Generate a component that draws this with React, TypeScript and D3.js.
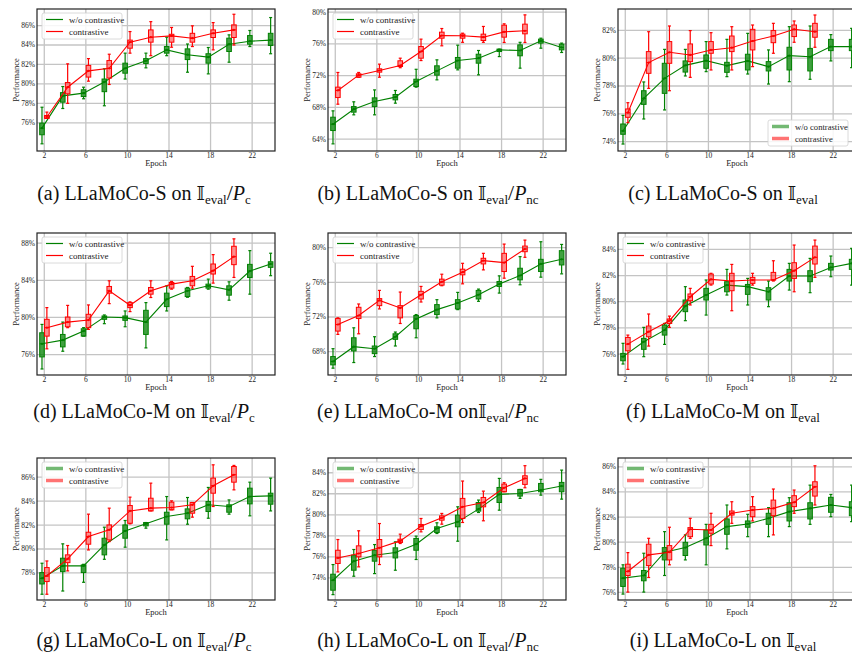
import * as d3 from 'd3';

// [low whisker, q1, median, q3, high whisker]
type Box = [number, number, number, number, number];

const epochsGreen = [2, 4, 6, 8, 10, 12, 14, 16, 18, 20, 22, 24];
const epochsRed = [2, 4, 6, 8, 10, 12, 14, 16, 18, 20];
const xTicks = [2, 6, 10, 14, 18, 22];
const seriesNames = ['w/o contrastive', 'contrastive'];

// (a) S on I_eval/P_c
const greenA: Box[] = [
  [73.84, 74.77, 75.45, 75.97, 77.6], [77.47, 78.12, 78.77, 79.1, 79.73], [78.47, 78.7, 79.05, 79.4, 79.66],
  [77.75, 79.2, 80.2, 80.5, 81.55], [80.5, 81.1, 81.6, 82.13, 83.16], [81.65, 82.1, 82.37, 82.6, 83.16],
  [82.9, 83.16, 83.5, 83.84, 84.8], [81.2, 82.5, 83.0, 83.6, 84.1], [81.03, 82.13, 82.75, 83.1, 83.74],
  [82.23, 83.33, 84.08, 84.7, 85.04], [83.84, 84.08, 84.39, 84.97, 85.49], [83.1, 83.95, 84.5, 85.2, 86.82],
];
const redA: Box[] = [
  [76.45, 76.45, 76.6, 76.75, 77.1], [78.0, 78.98, 79.66, 80.14, 82.06], [80.28, 80.7, 81.34, 81.9, 82.6],
  [79.94, 80.6, 81.6, 82.4, 83.05], [83.16, 83.67, 84.29, 84.5, 85.38], [82.9, 84.29, 84.8, 85.55, 86.4],
  [83.77, 84.29, 84.94, 85.1, 85.8], [83.84, 84.29, 84.7, 85.2, 85.97], [83.5, 84.77, 85.2, 85.55, 86.3],
  [84.0, 84.77, 85.55, 86.07, 87.16],
];

// (b) S on I_eval/P_nc
const greenB: Box[] = [
  [63.4, 65.08, 65.88, 66.76, 67.56], [67.06, 67.4, 67.77, 68.1, 68.7], [67.06, 68.1, 68.74, 69.2, 70.2],
  [68.53, 68.95, 69.29, 69.62, 70.13], [70.55, 70.63, 71.26, 71.55, 72.8], [71.47, 72.06, 72.6, 73.24, 73.99],
  [72.73, 72.94, 73.9, 74.29, 75.84], [72.1, 73.57, 74.2, 74.7, 75.17], [74.4, 75.04, 75.25, 75.34, 75.34],
  [72.94, 74.5, 75.17, 75.88, 76.2], [75.46, 76.1, 76.39, 76.6, 76.72], [74.92, 75.25, 75.55, 75.97, 76.1],
];
const redB: Box[] = [
  [68.4, 69.24, 70.13, 70.55, 72.4], [71.8, 71.8, 72.06, 72.23, 72.4], [71.8, 72.44, 72.65, 72.86, 73.45],
  [73.0, 73.15, 73.28, 73.87, 74.2], [73.9, 74.2, 75.04, 75.67, 76.6], [75.76, 76.72, 77.06, 77.48, 77.94],
  [76.2, 76.72, 77.02, 77.23, 77.35], [76.2, 76.43, 76.85, 77.23, 78.2], [76.18, 76.85, 77.52, 78.36, 78.53],
  [76.18, 77.27, 77.65, 78.49, 79.66],
];

// (c) S on I_eval
const greenC: Box[] = [
  [73.83, 74.53, 74.77, 75.27, 75.89], [75.63, 76.68, 77.11, 77.66, 78.29], [76.28, 77.47, 78.55, 79.63, 80.63],
  [78.72, 79.0, 79.48, 79.8, 80.63], [79.03, 79.27, 79.82, 80.23, 81.19], [78.67, 78.98, 79.46, 79.7, 81.35],
  [78.86, 79.15, 79.8, 80.28, 81.78], [78.14, 79.08, 79.39, 79.75, 80.59], [78.31, 79.15, 80.18, 80.78, 82.26],
  [78.48, 79.08, 80.1, 80.7, 82.31], [79.8, 80.54, 80.83, 81.35, 81.69], [79.32, 80.54, 80.83, 81.35, 82.14],
];
const redC: Box[] = [
  [75.37, 75.75, 76.08, 76.35, 76.8], [77.83, 78.91, 79.68, 80.47, 81.9], [77.66, 79.63, 80.42, 81.19, 82.31],
  [78.62, 79.75, 80.23, 81.02, 81.98], [79.15, 80.35, 80.59, 81.19, 81.83], [79.15, 80.47, 80.75, 81.59, 82.26],
  [79.39, 80.59, 81.23, 82.07, 82.38], [80.35, 81.11, 81.59, 81.98, 82.5], [81.14, 81.55, 82.07, 82.38, 82.67],
  [80.78, 81.5, 81.9, 82.5, 83.1],
];

// (d) M on I_eval/P_c
const greenD: Box[] = [
  [74.45, 75.75, 77.16, 78.35, 79.25], [76.36, 76.83, 77.56, 78.17, 79.5], [77.99, 77.99, 78.53, 78.78, 78.9],
  [79.33, 79.8, 80.05, 80.16, 80.27], [79.0, 79.69, 79.98, 80.16, 80.7], [76.72, 78.17, 79.5, 80.77, 81.6],
  [80.7, 81.17, 81.96, 82.62, 83.4], [82.18, 82.25, 82.87, 83.16, 83.23], [83.05, 83.16, 83.41, 83.59, 84.13],
  [81.86, 82.4, 82.98, 83.41, 83.84], [82.51, 84.31, 85.0, 85.72, 87.2], [84.5, 85.4, 85.76, 86.0, 86.92],
];
const redD: Box[] = [
  [76.62, 77.99, 78.9, 79.8, 81.06], [78.9, 79.0, 79.5, 80.05, 81.3], [78.71, 78.9, 79.72, 80.34, 81.35],
  [81.49, 82.62, 82.87, 83.34, 83.95], [80.63, 81.06, 81.31, 81.6, 81.68], [82.15, 82.51, 82.87, 83.23, 83.95],
  [83.05, 83.16, 83.59, 83.77, 83.88], [83.16, 83.41, 83.95, 84.42, 85.51], [83.7, 84.68, 85.04, 85.76, 86.77],
  [84.31, 85.69, 86.55, 87.67, 88.47],
];

// (e) M on I_eval/P_nc
const greenE: Box[] = [
  [66.09, 66.47, 66.86, 67.43, 68.34], [66.74, 68.08, 68.57, 69.6, 70.75], [67.43, 67.77, 68.34, 68.65, 69.72],
  [68.65, 69.42, 69.72, 70.06, 70.26], [69.6, 70.64, 71.78, 72.17, 72.28], [71.9, 72.28, 72.85, 73.43, 74.0],
  [72.85, 72.93, 73.62, 74.0, 74.84], [73.81, 74.08, 74.57, 75.07, 75.22], [74.76, 75.53, 75.8, 76.1, 76.75],
  [75.72, 76.29, 76.79, 77.63, 78.97], [76.6, 77.25, 78.13, 78.66, 80.69], [76.98, 78.01, 78.66, 79.66, 80.38],
];
const redE: Box[] = [
  [69.99, 70.37, 71.13, 71.82, 71.9], [70.06, 71.82, 72.17, 73.12, 73.5], [72.93, 73.31, 73.92, 74.12, 75.07],
  [71.25, 71.9, 73.05, 73.31, 74.88], [73.73, 74.08, 74.57, 74.96, 75.53], [75.61, 75.68, 76.06, 76.37, 76.94],
  [75.83, 76.87, 77.17, 77.52, 78.2], [77.44, 78.13, 78.51, 78.78, 79.35], [76.48, 77.25, 78.28, 79.35, 80.42],
  [78.89, 79.54, 79.85, 80.19, 80.88],
];

// (f) M on I_eval
const greenF: Box[] = [
  [75.24, 75.49, 75.8, 76.05, 76.82], [75.8, 76.36, 76.94, 77.2, 78.04], [76.74, 77.45, 77.83, 78.22, 78.34],
  [78.55, 79.24, 79.67, 80.13, 81.15], [78.98, 80.13, 80.51, 81.02, 81.66], [80.51, 80.76, 81.27, 81.53, 82.47],
  [79.75, 80.56, 81.15, 81.32, 81.78], [79.62, 80.13, 80.76, 81.07, 81.58], [80.89, 81.58, 81.96, 82.47, 82.93],
  [80.69, 81.53, 81.96, 82.37, 83.31], [81.91, 82.42, 82.62, 82.93, 83.49], [81.27, 82.47, 82.93, 83.24, 84.08],
];
const redF: Box[] = [
  [74.83, 76.25, 76.76, 77.27, 77.45], [76.61, 77.32, 77.71, 78.14, 79.06], [78.04, 78.34, 78.55, 78.68, 78.9],
  [79.75, 80.08, 80.38, 80.59, 81.02], [81.27, 81.35, 81.71, 82.11, 82.17], [79.31, 80.84, 81.58, 82.17, 82.85],
  [81.27, 81.4, 81.66, 81.86, 82.17], [81.58, 81.66, 81.66, 82.24, 83.13], [80.76, 81.78, 82.37, 82.98, 84.33],
  [81.86, 82.88, 83.39, 84.25, 84.71],
];

// (g) L on I_eval/P_c
const greenG: Box[] = [
  [76.22, 77.08, 77.55, 78.03, 78.81], [76.49, 78.11, 78.59, 79.23, 80.43], [77.22, 78.03, 78.59, 78.67, 78.72],
  [79.14, 79.51, 80.34, 80.9, 81.82], [80.15, 80.9, 81.51, 82.01, 82.38], [81.74, 81.93, 82.1, 82.21, 82.21],
  [80.76, 82.07, 82.71, 83.07, 84.38], [82.07, 82.52, 82.99, 83.35, 84.3], [82.57, 83.13, 83.69, 83.97, 85.14],
  [82.91, 83.07, 83.55, 83.69, 84.1], [82.77, 83.77, 84.38, 85.08, 85.58], [83.18, 83.74, 84.44, 84.66, 85.92],
];
const redG: Box[] = [
  [76.22, 77.28, 77.75, 78.45, 79.0], [78.17, 78.86, 79.17, 79.51, 80.29], [79.92, 80.4, 81.04, 81.4, 82.91],
  [80.62, 80.76, 81.6, 82.01, 83.41], [82.1, 82.15, 83.18, 83.63, 84.33], [83.18, 83.18, 83.41, 84.24, 85.5],
  [83.27, 83.27, 83.46, 83.91, 84.02], [82.66, 82.99, 83.69, 83.88, 83.88], [83.55, 84.66, 85.28, 85.92, 87.03],
  [84.94, 85.58, 86.2, 86.89, 86.98],
];

// (h) L on I_eval/P_nc
const greenH: Box[] = [
  [72.41, 72.83, 73.78, 74.35, 75.27], [74.16, 74.73, 75.59, 76.16, 76.7], [74.41, 75.59, 76.16, 76.63, 77.17],
  [74.73, 75.9, 76.41, 76.86, 77.43], [75.75, 76.63, 77.21, 77.75, 77.97], [78.22, 78.32, 78.7, 78.86, 79.24],
  [77.49, 78.86, 79.33, 79.97, 80.76], [80.22, 80.35, 80.54, 81.17, 81.4], [80.44, 81.17, 81.94, 82.6, 83.46],
  [81.56, 81.78, 82.03, 82.41, 82.41], [81.87, 82.19, 82.35, 82.98, 83.37], [81.49, 82.19, 82.73, 83.08, 84.25],
];
const redH: Box[] = [
  [74.57, 75.37, 75.9, 76.63, 77.65], [75.05, 76.0, 76.32, 77.05, 78.48], [75.27, 76.0, 76.86, 77.65, 79.17],
  [77.27, 77.37, 77.52, 77.68, 78.16], [78.38, 78.6, 78.92, 79.08, 79.65], [79.11, 79.49, 79.71, 79.9, 80.13],
  [79.27, 79.65, 80.76, 81.56, 83.21], [79.43, 80.76, 81.17, 81.65, 82.25], [82.19, 82.19, 82.57, 82.92, 83.05],
  [82.57, 82.89, 83.46, 83.71, 84.67],
];

// (i) L on I_eval
const greenI: Box[] = [
  [75.87, 76.48, 77.14, 77.93, 78.2], [76.03, 76.93, 77.35, 77.75, 79.12], [77.35, 78.59, 79.2, 79.57, 80.84],
  [78.59, 78.94, 79.57, 79.99, 80.58], [78.2, 79.78, 80.31, 80.97, 81.42], [79.47, 80.63, 81.24, 81.85, 82.96],
  [80.44, 81.19, 81.45, 81.69, 82.22], [80.44, 81.42, 81.9, 82.3, 82.75], [81.24, 81.69, 82.43, 83.14, 83.54],
  [81.42, 81.85, 82.69, 83.14, 84.54], [82.03, 82.38, 82.96, 83.57, 83.8], [81.63, 82.11, 82.75, 83.22, 84.54],
];
const redI: Box[] = [
  [76.03, 77.35, 77.67, 78.25, 79.17], [77.19, 78.14, 78.99, 79.84, 80.31], [78.2, 78.59, 79.2, 79.73, 81.19],
  [80.31, 80.44, 81.03, 81.16, 81.9], [79.73, 80.71, 80.97, 81.42, 82.3], [81.5, 82.16, 82.3, 82.48, 83.22],
  [81.69, 82.03, 82.56, 82.83, 83.62], [80.58, 82.11, 82.69, 83.35, 84.23], [82.3, 82.83, 83.17, 83.7, 84.15],
  [82.96, 83.67, 84.41, 84.81, 86.08],
];

const panels = [
  { tag: 'a', model: 'S', sub: 'c', green: greenA, red: redA, dom: [73.1, 87.7], ticks: [76, 78, 80, 82, 84, 86], legend: 'tl', thick: false },
  { tag: 'b', model: 'S', sub: 'nc', green: greenB, red: redB, dom: [62.5, 80.4], ticks: [64, 68, 72, 76, 80], legend: 'tl', thick: false },
  { tag: 'c', model: 'S', sub: '', green: greenC, red: redC, dom: [73.33, 83.53], ticks: [74, 76, 78, 80, 82], legend: 'br', thick: true },
  { tag: 'd', model: 'M', sub: 'c', green: greenD, red: redD, dom: [73.8, 89.1], ticks: [76, 80, 84, 88], legend: 'tl', thick: false },
  { tag: 'e', model: 'M', sub: 'nc', green: greenE, red: redE, dom: [65.3, 81.7], ticks: [68, 72, 76, 80], legend: 'tl', thick: false },
  { tag: 'f', model: 'M', sub: '', green: greenF, red: redF, dom: [74.4, 85.25], ticks: [76, 78, 80, 82, 84], legend: 'tl', thick: false },
  { tag: 'g', model: 'L', sub: 'c', green: greenG, red: redG, dom: [75.74, 87.6], ticks: [78, 80, 82, 84, 86], legend: 'tl', thick: true },
  { tag: 'h', model: 'L', sub: 'nc', green: greenH, red: redH, dom: [71.9, 85.4], ticks: [74, 76, 78, 80, 82, 84], legend: 'tl', thick: true },
  { tag: 'i', model: 'L', sub: '', green: greenI, red: redI, dom: [75.4, 86.7], ticks: [76, 78, 80, 82, 84, 86], legend: 'tl', thick: true },
];

const colLeft = [37, 328, 618];
const rowTop = [9, 233, 458];
const PW = 238;
const PH = 142;
const GREEN = '#008000';
const RED = '#ff0000';
const SERIF = '"Liberation Serif", "Times New Roman", serif';

function Series({ boxes, epochs, color, fillOp, off, x, y }: any) {
  const pts = boxes.map((b: Box, i: number) => [x(epochs[i] + off), y(b[2])] as [number, number]);
  const line = d3.line();
  const bw = 4.6;
  const cw = 3;
  return (
    <g>
      <path d={line(pts) || ''} fill="none" stroke={color} strokeWidth={1.1} />
      {boxes.map((b: Box, i: number) => {
        const cx = x(epochs[i] + off);
        return (
          <g key={i}>
            <line x1={cx} x2={cx} y1={y(b[0])} y2={y(b[1])} stroke={color} strokeWidth={1.2} />
            <line x1={cx} x2={cx} y1={y(b[3])} y2={y(b[4])} stroke={color} strokeWidth={1.2} />
            <line x1={cx - cw / 2} x2={cx + cw / 2} y1={y(b[0])} y2={y(b[0])} stroke={color} strokeWidth={1.2} />
            <line x1={cx - cw / 2} x2={cx + cw / 2} y1={y(b[4])} y2={y(b[4])} stroke={color} strokeWidth={1.2} />
            <rect x={cx - bw / 2} y={y(b[3])} width={bw} height={Math.max(1, y(b[1]) - y(b[3]))}
              fill={color} fillOpacity={fillOp} stroke={color} strokeWidth={1} />
            <line x1={cx - bw / 2} x2={cx + bw / 2} y1={y(b[2])} y2={y(b[2])} stroke={color} strokeWidth={1.1} />
            <circle cx={cx} cy={y(b[2])} r={1.1} fill={color} />
          </g>
        );
      })}
    </g>
  );
}

function Panel({ p, left, top }: any) {
  const x = d3.scaleLinear().domain([1.3, 24.2]).range([left, left + PW]);
  const y = d3.scaleLinear().domain(p.dom).range([top + PH, top]);
  const lw = 80, lh = 26;
  const lx = p.legend === 'tl' ? left + 5 : left + PW - 8 - lw;
  const ly = p.legend === 'tl' ? top + 4 : top + PH - 5 - lh;
  const fs = p.legend === 'tl' ? 9 : 8.6;
  const legendItems = [
    { name: seriesNames[0], color: GREEN },
    { name: seriesNames[1], color: RED },
  ];
  return (
    <g>
      <g>
        {xTicks.map((t) => (
          <line key={'gx' + t} x1={x(t)} x2={x(t)} y1={top} y2={top + PH} stroke="#c4c4c4" strokeWidth={1.3} />
        ))}
        {p.ticks.map((t: number) => (
          <line key={'gy' + t} x1={left} x2={left + PW} y1={y(t)} y2={y(t)} stroke="#c4c4c4" strokeWidth={1.3} />
        ))}
      </g>
      <Series boxes={p.green} epochs={epochsGreen} color={GREEN} fillOp={0.75} off={-0.22} x={x} y={y} />
      <Series boxes={p.red} epochs={epochsRed} color={RED} fillOp={0.45} off={0.25} x={x} y={y} />
      <rect x={left} y={top} width={PW} height={PH} fill="none" stroke="#222" strokeWidth={1.2} />
      {xTicks.map((t) => (
        <text key={'tx' + t} x={x(t)} y={top + PH + 7} textAnchor="middle" fontFamily={SERIF} fontSize={7.5} fill="#222">{t}</text>
      ))}
      {p.ticks.map((t: number) => (
        <text key={'ty' + t} x={left - 2} y={y(t) + 2.5} textAnchor="end" fontFamily={SERIF} fontSize={7.5} fill="#222">{t}%</text>
      ))}
      <text x={left + PW / 2} y={top + PH + 14.5} textAnchor="middle" fontFamily={SERIF} fontSize={8.5} fill="#222">Epoch</text>
      <text transform={`translate(${left - 18},${top + PH / 2}) rotate(-90)`} textAnchor="middle" fontFamily={SERIF} fontSize={8.5} fill="#222">Performance</text>
      <g>
        <rect x={lx} y={ly} width={lw} height={lh} rx={2} fill="#fff" fillOpacity={0.85} stroke="#d0d0d0" strokeWidth={0.8} />
        {legendItems.map((it, i) => (
          <g key={it.name}>
            <line x1={lx + 4} x2={lx + 21} y1={ly + 6.5 + i * 12} y2={ly + 6.5 + i * 12}
              stroke={it.color} strokeWidth={p.thick ? 3.5 : 1.2} strokeOpacity={p.thick ? 0.55 : 1} />
            <text x={lx + 27} y={ly + 9.5 + i * 12} fontFamily={SERIF} fontSize={fs} fill="#222">{it.name}</text>
          </g>
        ))}
      </g>
    </g>
  );
}

function Caption({ p, cx, baseline }: any) {
  return (
    <text x={cx} y={baseline} textAnchor="middle" fontFamily={SERIF} fontSize={20} fill="#111">
      {`(${p.tag}) LLaMoCo-${p.model} on${p.tag === 'e' ? '' : ' '}`}
      <tspan fontFamily='"DejaVu Serif", "DejaVu Sans", serif' fontSize={18}>𝕀</tspan>
      <tspan fontSize={13} dy={4}>eval</tspan>
      {p.sub ? (
        <>
          <tspan dy={-4} fontSize={22}>/</tspan>
          <tspan fontStyle="italic">P</tspan>
          <tspan fontSize={13} dy={4}>{p.sub}</tspan>
        </>
      ) : null}
    </text>
  );
}

export default function App() {
  const capBase = [200, 418, 647];
  const capCx = [144, 428, 723];
  return (
    <svg width={852} height={654} style={{ position: 'absolute', left: 0, top: 0, background: '#fff' }}>
      {panels.map((p, i) => {
        const r = Math.floor(i / 3);
        const c = i % 3;
        return (
          <g key={p.tag}>
            <Panel p={p} left={colLeft[c]} top={rowTop[r]} />
            <Caption p={p} cx={capCx[c]} baseline={capBase[r]} />
          </g>
        );
      })}
    </svg>
  );
}
